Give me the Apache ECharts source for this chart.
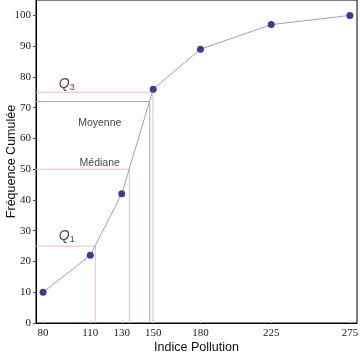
<!DOCTYPE html>
<html><head><meta charset="utf-8">
<script src="https://cdn.jsdelivr.net/npm/echarts@6/dist/echarts.min.js"></script>
<style>html,body{margin:0;padding:0;background:#fff}#c{width:360px;height:356px}</style>
</head><body><div id="c"></div>
<script>
const pollution = [80, 110, 130, 150, 180, 225, 275];
const cumFreq = [10, 22, 42, 76, 89, 97, 100];
const xTicks = [80, 110, 130, 150, 180, 225, 275];
const yTicks = [0, 10, 20, 30, 40, 50, 60, 70, 80, 90, 100];
const markNames = ['Q1', 'Médiane', 'Moyenne', 'Q3'];
const markX = [113.2, 135, 147.8, 149.8];
const markY = [25, 50, 72, 75];
const labelX = [95, 116, 116, 95];
const labelY = [28.2, 52, 65, 77.6];

const xMin = 75.5, xMax = 279.5, yMin = 0, yMax = 105;
const pink = '#ecbcbf', grey = '#a9abb6';

const refSeries = markNames.map((n, i) => ({
  type: 'line', silent: true, symbol: 'none', animation: false,
  lineStyle: { color: n === 'Moyenne' ? grey : pink, width: 1 },
  data: [[xMin, markY[i]], [markX[i], markY[i]], [markX[i], yMin]],
  z: 1
}));

const labelSeries = {
  type: 'scatter', symbolSize: 0, silent: true, animation: false,
  data: markNames.map((n, i) => ({
    value: [labelX[i], labelY[i]],
    label: {
      show: true, position: 'inside',
      formatter: n === 'Q1' ? '{q|Q}{s|1}' : n === 'Q3' ? '{q|Q}{s|3}' : n,
      fontFamily: 'Liberation Sans', fontSize: 10.5, color: '#111',
      rich: {
        q: { fontFamily: 'Liberation Sans', fontStyle: 'italic', fontSize: 14, color: '#111' },
        s: { fontFamily: 'Liberation Sans', fontSize: 9, color: '#111', padding: [7, 0, 0, 0] }
      }
    }
  }))
};

const chart = echarts.init(document.getElementById('c'), null, { renderer: 'canvas' });
chart.setOption({
  animation: false,
  grid: { left: 36, right: 3, top: 0, bottom: 33, outerBoundsMode: 'none', containLabel: false,
          show: true, borderColor: '#000', borderWidth: 1, backgroundColor: 'transparent' },
  xAxis: {
    type: 'value', min: xMin, max: xMax,
    name: 'Indice Pollution', nameLocation: 'middle', nameGap: 18, nameMoveOverlap: false,
    nameTextStyle: { fontFamily: 'Liberation Sans', fontSize: 12.5, color: '#111' },
    axisLine: { show: true, lineStyle: { color: '#000', width: 1 } },
    axisTick: { show: true, length: 3, inside: true, customValues: xTicks, lineStyle: { color: '#ddd' } },
    axisLabel: { customValues: xTicks, fontFamily: 'Liberation Serif', fontSize: 11, color: '#222', margin: 5 },
    splitLine: { show: false }
  },
  yAxis: {
    type: 'value', min: yMin, max: yMax,
    name: 'Fréquence Cumulée', nameLocation: 'middle', nameGap: 18, nameMoveOverlap: false,
    nameTextStyle: { fontFamily: 'Liberation Sans', fontSize: 12.5, color: '#111' },
    axisLine: { show: true, lineStyle: { color: '#000', width: 1 } },
    axisTick: { show: true, length: 3, customValues: yTicks, lineStyle: { color: '#555' } },
    axisLabel: { customValues: yTicks, fontFamily: 'Liberation Serif', fontSize: 11, color: '#222', margin: 5 },
    splitLine: { show: false }
  },
  series: [
    ...refSeries,
    {
      type: 'line', animation: false,
      data: pollution.map((x, i) => [x, cumFreq[i]]),
      symbol: 'circle', symbolSize: 7,
      lineStyle: { color: '#9d9dd2', width: 1 },
      itemStyle: { color: '#3c3c90' },
      z: 5
    },
    labelSeries
  ]
});
</script></body></html>
